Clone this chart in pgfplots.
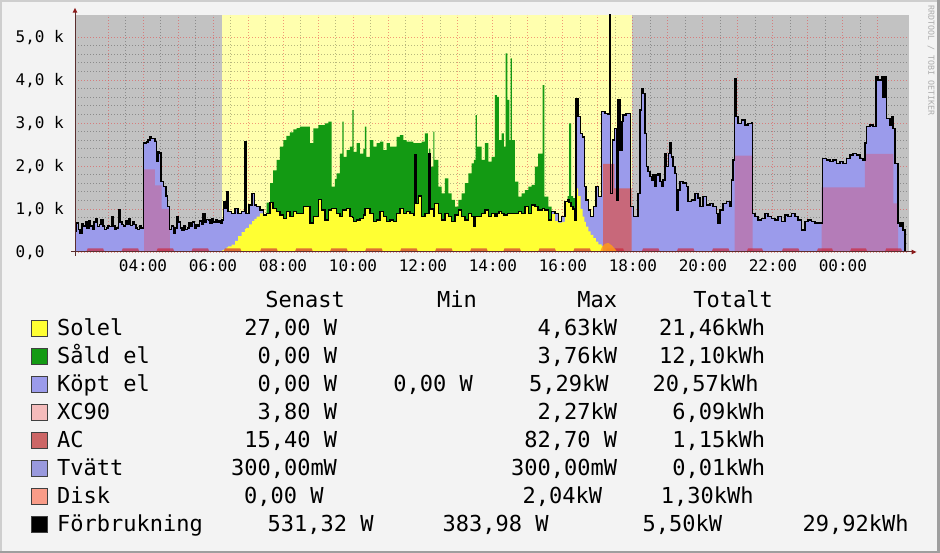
\documentclass[border=0pt]{standalone}
\usepackage{fontspec}
\setmainfont{DejaVu Sans Mono}
\usepackage{pgfplots}
\pgfplotsset{compat=1.18}
\usepackage{pgfplotstable}
\usetikzlibrary{arrows.meta}

\definecolor{canvasbg}{HTML}{F3F3F3}
\definecolor{nightbg}{HTML}{C2C2C2}
\definecolor{daybg}{HTML}{FFFFAE}
\definecolor{solel}{HTML}{FFFF33}
\definecolor{sald}{HTML}{139A13}
\definecolor{kopt}{HTML}{9B9BEB}
\definecolor{xcblock}{HTML}{B47CB8}
\definecolor{xcred}{HTML}{C8687A}
\definecolor{acred}{HTML}{CC2233}
\definecolor{diskor}{HTML}{FF9A1A}
\definecolor{legxc}{HTML}{F4BBBB}
\definecolor{legac}{HTML}{CC6666}
\definecolor{legtv}{HTML}{9999DD}
\definecolor{legdisk}{HTML}{F99C88}
\definecolor{axiscol}{HTML}{5A2E2E}
\definecolor{arrowcol}{HTML}{8B1A1A}
\definecolor{majgrid}{HTML}{E64646}
\definecolor{shadea}{HTML}{CECECE}
\definecolor{shadeb}{HTML}{9E9E9E}
\pagecolor{canvasbg}

\pgfplotstableread{
h C S
2.057 480 0
2.10 680 0
2.15 520 0
2.20 440 0
2.25 650 0
2.30 600 0
2.35 700 0
2.40 560 0
2.45 720 0
2.50 600 0
2.55 540 0
2.60 700 0
2.65 780 0
2.70 590 0
2.75 640 0
2.80 740 0
2.85 600 0
2.90 520 0
2.95 560 0
3.00 600 0
3.05 590 0
3.10 820 0
3.15 600 0
3.20 540 0
3.25 560 0
3.30 990 0
3.35 700 0
3.40 640 0
3.45 600 0
3.50 720 0
3.55 650 0
3.60 780 0
3.65 620 0
3.70 700 0
3.75 640 0
3.80 560 0
3.85 520 0
3.90 600 0
3.95 560 0
4.01 2540 0
4.10 2560 0
4.15 2600 0
4.20 2670 0
4.25 2640 0
4.34 2565 0
4.38 2100 0
4.43 2330 0
4.47 2300 0
4.52 1640 0
4.58 1520 0
4.66 1300 0
4.70 1055 0
4.76 520 0
4.82 600 0
4.87 440 0
4.92 560 0
4.97 820 0
5.02 700 0
5.07 560 0
5.12 510 0
5.17 600 0
5.22 520 0
5.27 560 0
5.32 680 0
5.37 590 0
5.42 700 0
5.47 560 0
5.52 640 0
5.57 600 0
5.62 720 0
5.67 640 0
5.72 900 0
5.77 700 0
5.82 760 0
5.87 740 0
5.92 680 0
5.97 780 0
6.02 700 0
6.07 740 0
6.12 690 0
6.17 720 0
6.22 660 0
6.257 745 40
6.30 1170 55
6.34 1016 80
6.39 1400 110
6.43 940 130
6.53 900 170
6.63 1016 260
6.72 900 370
6.82 938 460
6.91 2566 540
6.95 900 560
7.03 1093 640
7.12 1365 720
7.18 1093 770
7.25 1054 820
7.34 977 900
7.44 861 860
7.53 900 1150
7.63 1147 1600
7.72 1016 1900
7.82 938 2140
7.91 861 2450
8.01 783 2600
8.10 938 2700
8.20 822 2780
8.30 938 2850
8.39 900 2880
8.486 900 2915
8.581 1055 2915
8.676 1055 2915
8.771 670 2530
8.867 820 2875
9.01 1225 2950
9.105 975 2950
9.2 745 2990
9.295 975 3030
9.39 1015 1520
9.486 1015 1700
9.533 900 1830
9.629 820 2290
9.695 975 3030
9.733 975 2215
9.82 1015 2370
9.914 820 2450
9.98 800 3300
10.02 705 2330
10.105 745 2530
10.2 780 2290
10.295 860 2400
10.343 1015 2915
10.38 1015 2215
10.486 900 2600
10.581 705 2450
10.676 745 2530
10.771 940 2565
10.867 820 2370
10.962 705 2530
11.057 745 2450
11.152 705 2450
11.248 900 2680
11.343 1015 2720
11.438 900 2600
11.533 940 2565
11.629 900 2565
11.724 860 2530
11.762 2255 2530
11.8 1130 2530
11.867 1300 2530
11.962 820 2565
12.057 900 2760
12.143 900 2140
12.171 2290 2400
12.21 1000 1985
12.295 820 2800
12.33 1130 2140
12.438 900 1520
12.533 745 1365
12.629 900 1710
12.724 820 1365
12.819 705 1210
12.914 860 1055
13.01 975 1210
13.105 820 1365
13.2 745 1600
13.295 900 1830
13.39 820 2060
13.457 590 2140
13.505 820 3185
13.543 820 2450
13.676 900 2140
13.771 975 2530
13.867 820 2100
13.962 900 2215
14.057 820 3650
14.115 900 3610
14.172 940 2600
14.248 900 2760
14.314 860 2450
14.362 860 4620
14.41 900 3535
14.467 900 2600
14.505 900 4500
14.543 900 2600
14.629 900 1635
14.724 940 1290
14.819 900 1365
14.914 1055 1440
15.01 900 1520
15.105 1095 1560
15.2 1055 1985
15.295 975 2290
15.419 1015 3880
15.467 975 1290
15.581 745 1055
15.676 940 880
15.771 900 720
15.867 705 680
15.962 820 700
16.057 1170 1170
16.133 1210 1300
16.18 1150 2990
16.238 1055 1300
16.295 1000 1250
16.343 745 750
16.38 3575 1480
16.438 3150 1300
16.505 2760 1000
16.562 2680 820
16.61 1520 700
16.657 1210 590
16.724 975 480
16.79 820 400
16.867 1055 320
16.943 1520 240
17.01 1290 180
17.105 3265 140
17.2 3225 110
17.295 3200 85
17.324 5510 80
17.362 1365 70
17.419 2600 60
17.476 2875 50
17.524 1210 45
17.57 3535 40
17.629 2370 35
17.686 3030 30
17.724 3185 25
17.8 3225 20
17.876 3225 15
17.933 1055 10
17.962 1055 0
18.01 820 0
18.105 820 0
18.152 1365 0
18.2 3300 0
18.248 3800 0
18.295 3690 0
18.343 2760 0
18.39 1985 0
18.438 1870 0
18.486 1750 0
18.533 1675 0
18.581 1790 0
18.629 1520 0
18.676 1790 0
18.724 1830 0
18.771 1635 0
18.819 1520 0
18.867 1675 0
18.914 2290 0
18.962 1985 0
19.01 2290 0
19.057 2530 0
19.105 2215 0
19.152 1985 0
19.2 1830 0
19.248 975 0
19.295 1440 0
19.343 1635 0
19.438 1600 0
19.533 1520 0
19.581 1170 0
19.676 1210 0
19.771 1365 0
19.867 1250 0
19.914 1055 0
20.01 1290 0
20.105 1095 0
20.2 1130 0
20.295 1055 0
20.39 900 0
20.438 670 0
20.486 975 0
20.581 1130 0
20.676 1170 0
20.771 1055 0
20.819 1675 0
20.867 2140 0
20.905 4040 0
20.943 3150 0
21.01 2990 0
21.105 3070 0
21.2 2955 0
21.295 2990 0
21.39 3010 0
21.42 900 0
21.486 820 0
21.581 745 0
21.676 780 0
21.771 900 0
21.867 820 0
21.962 780 0
22.057 745 0
22.152 820 0
22.248 705 0
22.343 860 0
22.438 820 0
22.533 900 0
22.629 820 0
22.724 745 0
22.819 510 0
22.914 705 0
23.01 745 0
23.105 705 0
23.2 670 0
23.295 670 0
23.39 670 0
23.419 2180 0
23.533 2140 0
23.629 2100 0
23.724 2140 0
23.819 2060 0
23.914 2100 0
24.01 2060 0
24.105 2180 0
24.2 2255 0
24.295 2290 0
24.39 2255 0
24.486 2180 0
24.581 2140 0
24.629 2530 0
24.676 2915 0
24.771 2955 0
24.867 2915 0
24.943 4080 0
25.01 4000 0
25.105 4080 0
25.152 3610 0
25.2 4080 0
25.248 3110 0
25.343 2955 0
25.39 3150 0
25.438 2875 0
25.486 2060 0
25.533 2060 0
25.581 670 0
25.629 590 0
25.676 670 0
25.724 510 0
25.77 0 0
}\energy

\begin{document}%
\begin{tikzpicture}[x=1pt,y=1pt]
\path (0,0) rectangle (940,553);
\fill[shadea] (0,551) rectangle (940,553);
\fill[shadea] (0,0) rectangle (2,553);
\fill[shadeb] (0,0) rectangle (940,2);
\fill[shadeb] (937,0) rectangle (940,553);

\begin{axis}[
  at={(75pt,301pt)}, anchor=south west,
  scale only axis, width=834pt, height=237pt,
  xmin=2.057, xmax=25.89, ymin=0, ymax=5512,
  set layers, no marks,
  axis line style={draw=none},
  xtick={3,...,25},
  xticklabels={,04:00,,06:00,,08:00,,10:00,,12:00,,14:00,,16:00,,18:00,,20:00,,22:00,,00:00,},
  minor x tick num=1,
  ytick={0,1000,...,5000},
  yticklabels={{0,0\phantom{kk}},{1,0 k},{2,0 k},{3,0 k},{4,0 k},{5,0 k}},
  minor y tick num=4,
  xmajorgrids, ymajorgrids, xminorgrids, yminorgrids,
  major grid style={draw=majgrid, draw opacity=0.55, line width=0.9pt, dash pattern=on 1pt off 2pt},
  minor grid style={draw=black, draw opacity=0.28, line width=0.9pt, dash pattern=on 1pt off 2pt},
  xtick pos=bottom, ytick pos=left, tick align=outside,
  major tick length=3pt, minor tick length=0pt,
  tick style={draw=none},
  xticklabel style={font=\fontsize{16}{19}\selectfont, inner sep=0pt, anchor=north, yshift=-4.7pt},
  yticklabel style={font=\fontsize{16}{19}\selectfont, inner sep=0pt, anchor=base east, yshift=-5.8pt, xshift=-8pt},
]
\addplot[on layer=axis background, fill=nightbg, draw=none] coordinates {(2.057,5512) (25.89,5512)} \closedcycle;
\addplot[on layer=axis background, fill=daybg, draw=none] coordinates {(6.257,5512) (17.962,5512)} \closedcycle;

\addplot[const plot mark left, fill=sald, draw=none] table[x=h, y=S]{\energy} \closedcycle;
\addplot[const plot mark left, fill=kopt, draw=none] table[x=h, y=C]{\energy} \closedcycle;
\addplot[const plot mark left, fill=solel, draw=none] table[x=h, y expr={min(\thisrow{S},\thisrow{C})}]{\energy} \closedcycle;

\addplot[const plot mark left, fill=xcblock, draw=none] coordinates {(4.03,1920) (4.34,1550) (4.53,1000) (4.77,0) (20.91,2240) (21.42,0) (23.39,1500) (24.63,2280) (25.44,1130) (25.58,0)} \closedcycle;
\addplot[const plot mark left, fill=xcred, draw=none] coordinates {(17.15,2050) (17.47,1480) (17.96,0)} \closedcycle;

\addplot[fill=acred, fill opacity=0.65, draw=none] coordinates {
(2.38,0)(2.42,85)(2.86,85)(2.90,0)
(3.38,0)(3.42,85)(3.86,85)(3.90,0)
(4.38,0)(4.42,85)(4.86,85)(4.90,0)
(5.38,0)(5.42,85)(5.86,85)(5.90,0)
(6.30,0)(6.34,85)(6.78,85)(6.82,0)
(7.34,0)(7.38,85)(7.82,85)(7.86,0)
(8.34,0)(8.38,85)(8.82,85)(8.86,0)
(9.34,0)(9.38,85)(9.82,85)(9.86,0)
(10.34,0)(10.38,85)(10.82,85)(10.86,0)
(11.34,0)(11.38,85)(11.82,85)(11.86,0)
(12.34,0)(12.38,85)(12.82,85)(12.86,0)
(13.34,0)(13.38,85)(13.82,85)(13.86,0)
(14.29,0)(14.33,85)(14.77,85)(14.81,0)
(15.29,0)(15.33,85)(15.77,85)(15.81,0)
(16.29,0)(16.33,85)(16.77,85)(16.81,0)
(17.22,0)(17.26,85)(17.72,85)(17.76,0)
(18.25,0)(18.29,85)(18.73,85)(18.77,0)
(19.25,0)(19.29,85)(19.73,85)(19.77,0)
(20.25,0)(20.29,85)(20.73,85)(20.77,0)
(21.25,0)(21.29,85)(21.69,85)(21.73,0)
(22.25,0)(22.29,85)(22.73,85)(22.77,0)
(23.25,0)(23.29,85)(23.69,85)(23.73,0)
(24.20,0)(24.24,85)(24.66,85)(24.70,0)
(25.20,0)(25.24,85)(25.66,85)(25.70,0)
} \closedcycle;
\addplot[fill=diskor, fill opacity=0.85, draw=none] coordinates {(17.06,0) (17.12,120) (17.2,190) (17.3,210) (17.4,150) (17.5,60) (17.55,0)} \closedcycle;

\addplot[const plot mark left, black, line width=1.5pt] table[x=h, y=C]{\energy};
\end{axis}

% axis lines with arrows
\draw[axiscol, line width=1pt] (75,297) -- (75,541);
\fill[arrowcol] (72.6,540.3) -- (77.4,540.3) -- (75,545.2) -- cycle;
\draw[axiscol, line width=1pt] (71,301) -- (912,301);
\fill[arrowcol] (911.5,303.4) -- (911.5,298.6) -- (916.5,301) -- cycle;

% watermark
\node[rotate=-90, anchor=west, inner sep=0pt, text=black!32, font=\fontsize{8.3}{9}\selectfont] at (931,548) {RRDTOOL / TOBI OETIKER};

% legend
\begin{scope}[every node/.style={inner sep=0pt, font=\fontsize{22}{24}\selectfont}]
\node[anchor=base east] at (345,245) {Senast};
\node[anchor=base east] at (477,245) {Min};
\node[anchor=base east] at (617.2,245) {Max};
\node[anchor=base east] at (773,245) {Totalt};

\foreach \c/\y in {solel/217.5, sald/189.5, kopt/161.5, legxc/133.5, legac/105.5, legtv/77.5, legdisk/49.5, black/21.5}
  {\filldraw[fill=\c, draw=black!75, line width=0.8pt] (31.4,\y-1.2) rectangle (47.6,\y+15.3);}

\node[anchor=base west] at (57,217.5) {Solel};
\node[anchor=base west] at (57,189.5) {Såld el};
\node[anchor=base west] at (57,161.5) {Köpt el};
\node[anchor=base west] at (57,133.5) {XC90};
\node[anchor=base west] at (57,105.5) {AC};
\node[anchor=base west] at (57,77.5) {Tvätt};
\node[anchor=base west] at (57,49.5) {Disk};
\node[anchor=base west] at (57,21.5) {Förbrukning};

\node[anchor=base east] at (337.2,217.5) {27,00 W};
\node[anchor=base east] at (337.2,189.5) {0,00 W};
\node[anchor=base east] at (337.2,161.5) {0,00 W};
\node[anchor=base east] at (337.2,133.5) {3,80 W};
\node[anchor=base east] at (337.2,105.5) {15,40 W};
\node[anchor=base east] at (337.2,77.5) {300,00mW};
\node[anchor=base east] at (323.8,49.5) {0,00 W};
\node[anchor=base east] at (373.8,21.5) {531,32 W};

\node[anchor=base east] at (473,161.5) {0,00 W};
\node[anchor=base east] at (548.8,21.5) {383,98 W};

\node[anchor=base east] at (617.2,217.5) {4,63kW};
\node[anchor=base east] at (617.2,189.5) {3,76kW};
\node[anchor=base east] at (608.8,161.5) {5,29kW};
\node[anchor=base east] at (617.2,133.5) {2,27kW};
\node[anchor=base east] at (617.2,105.5) {82,70 W};
\node[anchor=base east] at (617.2,77.5) {300,00mW};
\node[anchor=base east] at (602.2,49.5) {2,04kW};
\node[anchor=base east] at (722.2,21.5) {5,50kW};

\node[anchor=base east] at (765.3,217.5) {21,46kWh};
\node[anchor=base east] at (765.3,189.5) {12,10kWh};
\node[anchor=base east] at (758.7,161.5) {20,57kWh};
\node[anchor=base east] at (765.3,133.5) {6,09kWh};
\node[anchor=base east] at (765.3,105.5) {1,15kWh};
\node[anchor=base east] at (765.3,77.5) {0,01kWh};
\node[anchor=base east] at (753.7,49.5) {1,30kWh};
\node[anchor=base east] at (908.7,21.5) {29,92kWh};
\end{scope}
\end{tikzpicture}%
\end{document}
